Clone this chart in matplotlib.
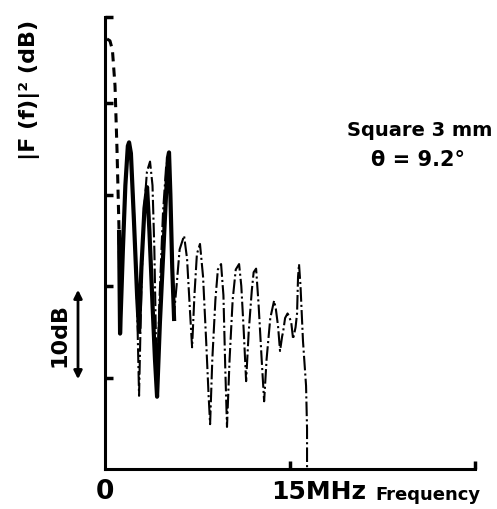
import matplotlib
matplotlib.use('Agg')
import matplotlib.pyplot as plt

# Data (frequency in MHz, level in dB above axis bottom).
lead_f  = [0.16, 0.40, 0.60, 0.81, 0.97, 1.14, 1.22]
lead_db = [47.0, 46.8, 45.8, 41.9, 35.0, 25.9, 17.0]

thick_f  = [1.14, 1.22, 1.45, 1.65, 1.85, 1.95, 2.10, 2.35, 2.60, 2.76,
            2.95, 3.20, 3.41, 3.60, 3.85, 4.05, 4.22, 4.45, 4.70, 4.95,
            5.10, 5.19, 5.30, 5.45, 5.60]
thick_db = [25.9, 14.8, 24.0, 31.0, 35.3, 35.7, 34.5, 27.0, 19.0, 15.0,
            22.0, 28.5, 30.8, 26.0, 18.0, 12.0, 7.9, 16.0, 23.0, 30.0,
            34.0, 34.6, 30.0, 22.0, 16.4]

main_f  = [1.95, 2.10, 2.35, 2.60, 2.76, 2.95, 3.15, 3.40, 3.65, 3.85,
           4.00, 4.12, 4.22, 4.40, 4.70, 4.95, 5.19, 5.35, 5.51, 5.60,
           5.80, 6.05, 6.41, 6.65, 6.90, 7.06, 7.25, 7.45, 7.70, 7.95,
           8.20, 8.40, 8.52, 8.70, 8.95, 9.15, 9.41, 9.60, 9.75, 9.89,
           10.10, 10.35, 10.60, 10.87, 11.05, 11.25, 11.44, 11.65, 11.90, 12.05,
           12.25, 12.45, 12.70, 12.90, 13.10, 13.40, 13.71, 13.85, 14.03, 14.19,
           14.36, 14.44, 14.60, 14.80, 14.92, 15.10, 15.25, 15.45, 15.57, 15.65,
           15.73, 15.85, 16.05, 16.30, 16.38, 16.38]
main_db = [35.7, 34.5, 28.0, 18.0, 8.0, 20.0, 28.0, 32.5, 33.6, 31.0,
           24.0, 15.0, 7.9, 18.0, 28.0, 33.0, 34.6, 28.0, 19.3, 17.0,
           20.0, 24.0, 25.5, 23.0, 17.0, 13.3, 19.0, 23.5, 24.6, 21.0,
           14.0, 8.0, 4.9, 12.0, 18.5, 21.8, 22.4, 19.0, 11.0, 4.6,
           12.0, 18.5, 21.8, 22.4, 20.0, 15.0, 9.6, 15.0, 19.5, 21.5,
           21.9, 18.0, 12.0, 7.4, 12.0, 16.5, 18.4, 17.5, 15.6, 12.9,
           14.5, 15.0, 16.5, 17.0, 16.7, 16.0, 14.2, 15.5, 17.0, 21.0,
           22.4, 20.0, 14.0, 9.1, 4.4, 0.0]

x_ticks = [15, 30]
y_ticks = [10, 20, 30, 40, 49.4]

font = 'DejaVu Sans'

fig = plt.figure(figsize=(4.97, 5.10), dpi=100)
ax = fig.add_axes([0.2113, 0.0784, 0.7445, 0.8863])

ax.plot(lead_f, lead_db, color='black', lw=2.2, ls=(0, (3, 2)))
ax.plot(thick_f, thick_db, color='black', lw=3.0, solid_joinstyle='round')
ax.plot(main_f, main_db, color='black', lw=1.5, ls=(0, (7, 1.5, 1, 1.5)))

ax.set_xlim(0, 30)
ax.set_ylim(0, 49.4)
for s in ['top', 'right']:
    ax.spines[s].set_visible(False)
for s in ['left', 'bottom']:
    ax.spines[s].set_linewidth(2.2)
ax.set_xticks(x_ticks)
ax.set_yticks(y_ticks)
ax.set_xticklabels([])
ax.set_yticklabels([])
ax.tick_params(direction='in', length=6, width=2.5)

# axis labels drawn as free text, like the original figure
txt = dict(ha='center', va='center', family=font, fontweight='bold')
fig.text(105 / 497, 1 - 492 / 510, '0', fontsize=19, **txt)
fig.text(319 / 497, 1 - 492 / 510, '15MHz', fontsize=18, **txt)
fig.text(428 / 497, 1 - 495 / 510, 'Frequency', fontsize=13, **txt)
fig.text(30 / 497, 1 - 90 / 510, '|F (f)|² (dB)', rotation=90, fontsize=16, **txt)
fig.text(60 / 497, 1 - 335 / 510, '10dB', rotation=90, fontsize=16, **txt)
fig.text(420 / 497, 1 - 130 / 510, 'Square 3 mm', fontsize=14, **txt)
fig.text(418 / 497, 1 - 160 / 510, 'θ = 9.2°', fontsize=15, **txt)

# 10 dB scale arrow
fig.add_artist(matplotlib.patches.FancyArrowPatch(
    (78 / 497, 1 - 383 / 510), (78 / 497, 1 - 288 / 510),
    transform=fig.transFigure, arrowstyle='<|-|>', mutation_scale=12,
    color='black', lw=2))

fig.savefig('out.png', dpi=100)
